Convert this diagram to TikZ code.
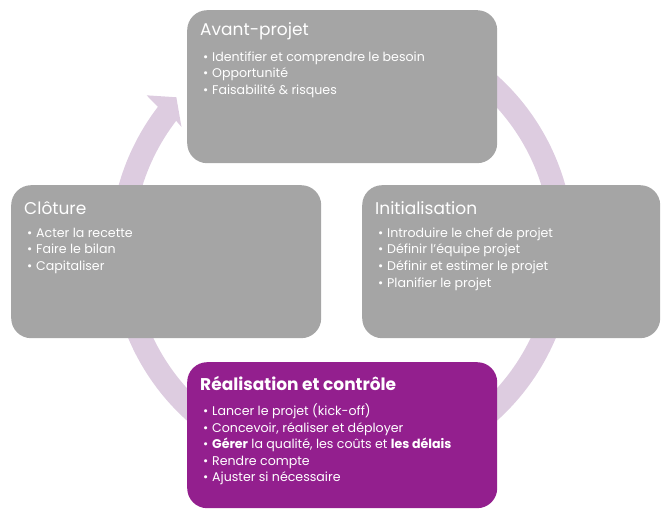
\documentclass[tikz,border=0pt]{standalone}
\usepackage{fontspec}
\setmainfont{Poppins}
\definecolor{phasegray}{RGB}{165,165,165}
\definecolor{phasepurple}{RGB}{147,31,142}
\definecolor{cyclelilac}{RGB}{221,204,224}
\newcommand{\puce}{\makebox[9pt][l]{\textbullet}}

\begin{document}
\begin{tikzpicture}
[   x=1pt, y=-1pt,
    phase/.style={fill=#1, rounded corners=20pt, minimum width=310pt, minimum height=153pt, inner sep=0pt, anchor=north west},
    ptitle/.style={text=white, font=\fontsize{17}{20}\selectfont, inner sep=0pt, anchor=west},
    plist/.style={text=white, font=\fontsize{12.6}{16.6}\selectfont, inner sep=0pt, anchor=north west, align=left},
]
\useasboundingbox (0,0) rectangle (661,510);

% cycle arrow, drawn first so the phases hide most of it
\begin{scope}[shift={(342,248)}]
\fill[cyclelilac] (-110:232) arc[start angle=-110, end angle=217.5, radius=232]
  -- (218:248) -- (222.3:224) -- (217:201) -- (217.5:209)
  arc[start angle=217.5, end angle=-110, radius=209] -- cycle;
\end{scope}

\node[phase=phasegray] (avant) at (187,10) {};
\node[phase=phasegray] (cloture) at (11,185) {};
\node[phase=phasegray, minimum width=298pt] (init) at (362,185) {};
\node[phase=phasepurple, minimum height=146pt] (real) at (187,362) {};

\node[ptitle] (avantT) at (200,31) {Avant-projet};
\node[plist] (avantL) at (203,51.5) {\puce Identifier et comprendre le besoin\\
  \puce Opportunité\\
  \puce Faisabilité \& risques};

\node[ptitle] (clotureT) at (24,208) {Clôture};
\node[plist] (clotureL) at (27,227.5) {\puce Acter la recette\\
  \puce Faire le bilan\\
  \puce Capitaliser};

\node[ptitle] (initT) at (375,208) {Initialisation};
\node[plist] (initL) at (378,227.5) {\puce Introduire le chef de projet\\
  \puce Définir l'équipe projet\\
  \puce Définir et estimer le projet\\
  \puce Planifier le projet};

\node[ptitle, font=\bfseries\fontsize{17}{20}\selectfont] (realT) at (200,383) {Réalisation et contrôle};
\node[plist] (realL) at (203,403.5) {\puce Lancer le projet (kick-off)\\
  \puce Concevoir, réaliser et déployer\\
  \puce \textbf{Gérer} la qualité, les coûts et \textbf{les délais}\\
  \puce Rendre compte\\
  \puce Ajuster si nécessaire};

\end{tikzpicture}
\end{document}
